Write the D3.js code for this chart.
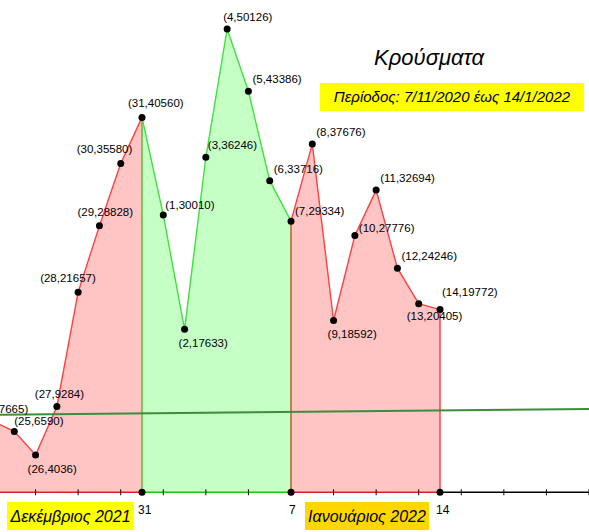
<!DOCTYPE html>
<html><head><meta charset="utf-8">
<script src="https://cdn.jsdelivr.net/npm/d3@7"></script>
<style>body{margin:0;background:#fff}svg{display:block;font-family:"Liberation Sans",Arial,sans-serif}</style>
</head><body><svg id="c" width="589" height="532"></svg>
<script>
// index 0 = 31 Dec 2021
const idx = [-7,-6,-5,-4,-3,-2,-1,0,1,2,3,4,5,6,7,8,9,10,11,12,13,14];
const days = [24,25,26,27,28,29,30,31,1,2,3,4,5,6,7,8,9,10,11,12,13,14];
const cases = [7665,6590,4036,9284,21657,28828,35580,40560,30010,17633,36246,50126,43386,33716,29334,37676,18592,27776,32694,24246,20405,19772];
const trendIdx = [-8, 21];
const trendVal = [8363, 9012];
const axisLabels = [[0,"31"],[7,"7"],[14,"14"]];

const svg = d3.select("#c");
const x = d3.scaleLinear().domain([0,7]).range([142,291]);
const y = d3.scaleLinear().domain([0,50126]).range([492.3,29]);
const pts = idx.map((d,i)=>({i:d,day:days[i],v:cases[i]}));
const seg = (a,b)=>pts.filter(p=>p.i>=a&&p.i<=b);
const area = d3.area().x(p=>x(p.i)).y0(y(0)).y1(p=>y(p.v));
const line = d3.line().x(p=>x(p.i)).y(p=>y(p.v));
const parts = [[-7,0,"#ffc4c4","#ff4040"],[0,7,"#c6ffc6","#40e040"],[7,14,"#ffc4c4","#ff4040"]];
parts.forEach(([a,b,f,s])=>{
  const d = seg(a,b);
  svg.append("path").attr("d",area(d)).attr("fill",f);
  svg.append("path").attr("d",line(d)).attr("fill","none").attr("stroke",s).attr("stroke-width",1.4);
});
[[0,"#5cbb2c"],[7,"#b0642a"],[14,"#ff4040"]].forEach(([i,c])=>{
  const p = pts.find(q=>q.i===i);
  svg.append("line").attr("x1",x(i)).attr("x2",x(i)).attr("y1",y(0)).attr("y2",y(p.v)).attr("stroke",c).attr("stroke-width",1.5);
});
const y0 = y(0);
[[x(-8),x(0),"#e02020"],[x(0),x(7),"#20c020"],[x(7),x(14),"#e02020"],[x(14),589,"#000"]].forEach(([a,b,c])=>
  svg.append("line").attr("x1",a).attr("x2",b).attr("y1",y0).attr("y2",y0).attr("stroke",c).attr("stroke-width",1.5));
d3.range(-7,22,2).forEach(i=>svg.append("line").attr("x1",x(i)).attr("x2",x(i)).attr("y1",y0-3).attr("y2",y0+3).attr("stroke","#000"));
axisLabels.forEach(([i,t])=>{
  svg.append("circle").attr("cx",x(i)).attr("cy",y0).attr("r",3.5).attr("fill","#000");
  svg.append("text").attr("x",x(i)-4+(t.length>1?0:2)).attr("y",y0+22).attr("font-size",12).text(t);
});
svg.append("line").attr("x1",x(trendIdx[0])).attr("x2",x(trendIdx[1])).attr("y1",y(trendVal[0])).attr("y2",y(trendVal[1])).attr("stroke","#3c8c3c").attr("stroke-width",2);
// label offsets [dx, dy] relative to point
const off = {"-7":[-14,-8],"-6":[0,-6],"-5":[-8,18],"-4":[-22,-8],"-3":[-38,-10],"-2":[-22,-10],"-1":[-44,-10],"0":[-14,-10],
  "1":[2,-6],"2":[-6,18],"3":[2,-8],"4":[-4,-8],"5":[4,-8],"6":[4,-8],"7":[4,-6],"8":[4,-8],"9":[-6,18],"10":[4,-4],
  "11":[4,-8],"12":[4,-8],"13":[-12,16],"14":[2,-14]};
pts.forEach(p=>{
  svg.append("circle").attr("cx",x(p.i)).attr("cy",y(p.v)).attr("r",3.5).attr("fill","#000");
  const o = off[p.i];
  svg.append("text").attr("x",x(p.i)+o[0]).attr("y",y(p.v)+o[1]).attr("font-size",11.5).attr("fill","#000")
    .text(`(${p.day},${p.v})`);
});
function box(x0,y0,w,h,c,t,fs){
  svg.append("rect").attr("x",x0).attr("y",y0).attr("width",w).attr("height",h).attr("fill",c);
  svg.append("text").attr("x",x0+w/2).attr("y",y0+h/2+fs*0.36).attr("text-anchor","middle").attr("font-size",fs).attr("font-style","italic").text(t);
}
box(7,502,127,28,"#ffff00","Δεκέμβριος 2021",16);
box(305,502,124,28,"#ffd700","Ιανουάριος 2022",16);
box(320,83,264,28,"#ffff00","Περίοδος: 7/11/2020 έως 14/1/2022",15);
svg.append("text").attr("x",429).attr("y",65).attr("text-anchor","middle").attr("font-size",22).attr("font-style","italic").text("Κρούσματα");
</script></body></html>
